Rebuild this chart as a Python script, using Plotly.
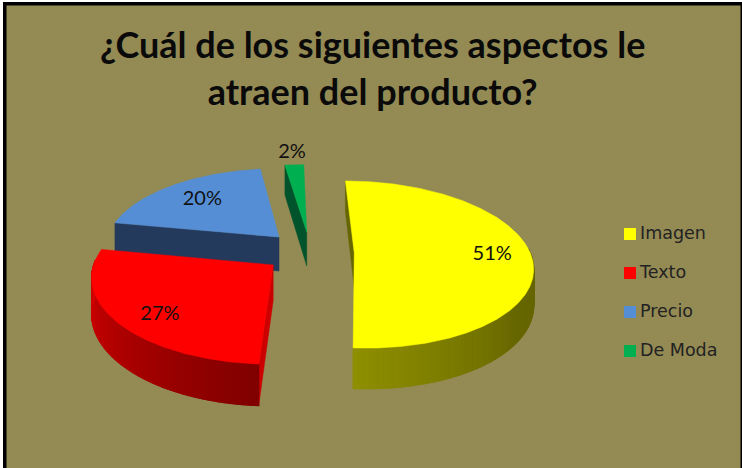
import numpy as np
import plotly.graph_objects as go

# Survey answers, in percent
categories = ["Imagen", "Texto", "Precio", "De Moda"]
values = [51, 27, 20, 2]
labels = ["51%", "27%", "20%", "2%"]

# Slice appearance and placement on the ground plane
top_colors = ["#FFFF00", "#FF0000", "#558ED5", "#00B050"]
cut_colors = ["#666600", "#CC0000", "#243A5C", "#00532A"]
wall_far = [(102, 102, 0), (216, 0, 0), (36, 58, 92), (0, 83, 42)]
wall_near = [(143, 143, 0), (128, 0, 0), (36, 58, 92), (0, 83, 42)]
explode_x = [0.28, -0.18, -0.148, 0.015]
explode_y = [0.0, -0.143, 0.20, 0.265]
label_radius = [0.78, 0.79, 0.70, 1.21]
label_turn = [0.0, -5.0, 0.0, 0.0]

# Legend rows
legend_x = [630, 630, 630, 630]
legend_y = [234, 273, 312, 351]
legend_text_x = [640, 640, 640, 640]
legend_text_y = [235, 274, 313, 352]

# Camera used to flatten the exploded pie onto the page
CX, CY = 305.0, 253.0
FX, FY = 176.0, 82.0
PERSP = 0.138
SHEAR = 0.04
THICK = 35.0

BG = "#948A54"


def project(x, y, drop=0.0):
    x = np.asarray(x, dtype=float)
    y = np.asarray(y, dtype=float)
    d = 1 + PERSP * y
    flat_y = CY - FY * y / d
    return CX + FX * x / d + SHEAR * (flat_y - CY), flat_y + drop / d


def poly(xs, ys, color, width=0.5):
    return go.Scatter(
        x=list(xs), y=list(ys), mode="lines", fill="toself", fillcolor=color,
        line=dict(color=color, width=width), hoverinfo="skip", showlegend=False,
    )


def rgb(c):
    return "rgb(%d,%d,%d)" % tuple(int(round(v)) for v in c)


shares = np.array(values, dtype=float) / sum(values) * 360.0
ends = np.cumsum(shares)
starts = ends - shares

fig = go.Figure()
label_pos = {}

# Far slices first so the nearer ones paint over them
for i in [2, 3, 0, 1]:
    ex, ey = explode_x[i], explode_y[i]
    th = np.radians(np.linspace(starts[i], ends[i], int(shares[i] * 2) + 3))
    rim_x, rim_y = ex + np.sin(th), ey + np.cos(th)

    # cut face along the slice's leading edge
    ax, ay = project(ex, ey)
    ax2, ay2 = project(ex, ey, THICK)
    bx, by = project(rim_x[0], rim_y[0])
    bx2, by2 = project(rim_x[0], rim_y[0], THICK)
    fig.add_trace(poly([ax, bx, bx2, ax2, ax], [ay, by, by2, ay2, ay], cut_colors[i]))

    # outer wall, shaded strip by strip across the visible half
    px, py = project(rim_x, rim_y)
    qx, qy = project(rim_x, rim_y, THICK)
    deg = np.degrees(th)
    for k in range(len(th) - 1):
        if np.cos(th[k]) > 0.05 and np.cos(th[k + 1]) > 0.05:
            continue
        if i == 0:
            t = np.clip((deg[k] - 125) / 58, 0, 1)
        else:
            t = 1 - np.clip((deg[k] - 183.6) / 90, 0, 1)
        col = np.array(wall_far[i]) * (1 - t) + np.array(wall_near[i]) * t
        fig.add_trace(poly(
            [px[k], px[k + 1], qx[k + 1], qx[k], px[k]],
            [py[k], py[k + 1], qy[k + 1], qy[k], py[k]], rgb(col), width=1.2))

    # top surface
    fig.add_trace(poly(np.r_[ax, px, ax], np.r_[ay, py, ay], top_colors[i]))

    mid = np.radians((starts[i] + ends[i]) / 2 + label_turn[i])
    label_pos[i] = project(ex + label_radius[i] * np.sin(mid), ey + label_radius[i] * np.cos(mid))

fig.add_trace(go.Scatter(
    x=[float(label_pos[i][0]) for i in range(4)],
    y=[float(label_pos[i][1]) for i in range(4)],
    mode="text", text=labels, textposition="middle center",
    textfont=dict(family="Lato", size=20, color="#111111"),
    hoverinfo="skip", showlegend=False,
))

# Legend keys and their names
fig.add_trace(go.Scatter(
    x=legend_x, y=legend_y, mode="markers",
    marker=dict(symbol="square", size=12, color=top_colors),
    hoverinfo="skip", showlegend=False,
))
fig.add_trace(go.Scatter(
    x=legend_text_x, y=legend_text_y, mode="text", text=categories,
    textposition="middle right",
    textfont=dict(family="DejaVu Sans", size=17.5, color="#222222"),
    hoverinfo="skip", showlegend=False,
))

fig.update_layout(
    width=742, height=468,
    margin=dict(l=0, r=0, t=0, b=0),
    paper_bgcolor="white", plot_bgcolor="white",
    showlegend=False,
    xaxis=dict(range=[0, 742], visible=False, fixedrange=True),
    yaxis=dict(range=[468, 0], visible=False, fixedrange=True),
    annotations=[dict(
        text="¿Cuál de los siguientes aspectos le<br>atraen del producto?",
        xref="x", yref="y", x=372, y=67, xanchor="center", yanchor="middle",
        showarrow=False, align="center",
        font=dict(family="Lato", size=36, color="#0A0A0A", weight="bold"),
    )],
    shapes=[
        dict(type="rect", xref="x", yref="y", x0=3, y0=2, x1=742, y1=468,
             fillcolor="black", line=dict(width=0), layer="below"),
        dict(type="rect", xref="x", yref="y", x0=6.5, y0=5.5, x1=740.5, y1=468,
             fillcolor=BG, line=dict(width=0), layer="below"),
    ],
)

fig.write_html("out.html")
